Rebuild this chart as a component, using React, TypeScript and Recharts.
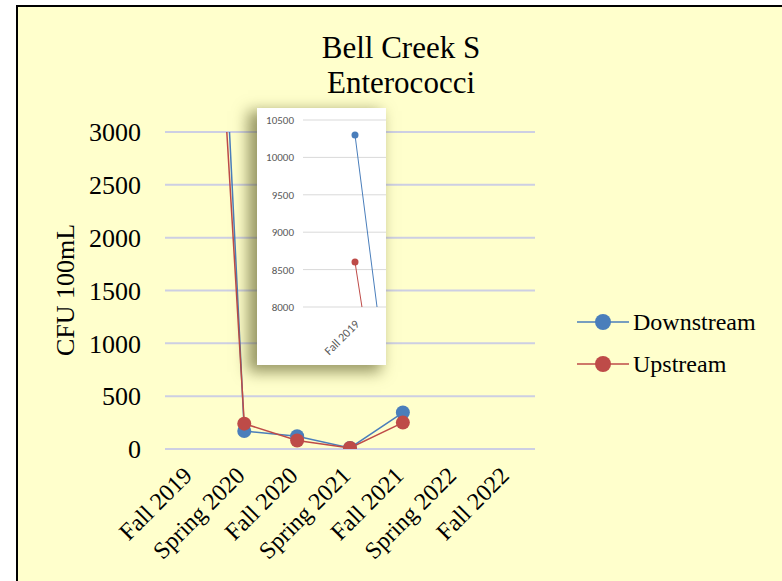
import React from 'react';
import { LineChart, Line, XAxis, YAxis, CartesianGrid } from 'recharts';

const categories = ['Fall 2019', 'Spring 2020', 'Fall 2020', 'Spring 2021', 'Fall 2021', 'Spring 2022', 'Fall 2022'];
const downstream = [10300, 170, 120, 10, 345, null, null];
const upstream = [8600, 240, 80, 10, 250, null, null];
const mainTicks = [0, 500, 1000, 1500, 2000, 2500, 3000];
const insetTicks = [8000, 8500, 9000, 9500, 10000, 10500];

const seriesNames = ['Downstream', 'Upstream'];
const seriesColors = ['#4A7EBB', '#BE4B48'];

const data = categories.map((c, i) => ({ name: c, Downstream: downstream[i], Upstream: upstream[i] }));

const serif = "'Liberation Serif', 'Times New Roman', serif";
const sans = "Carlito, 'Liberation Sans', Arial, sans-serif";

const MainXTick = (props: any) => {
  const { x, y, payload } = props;
  return (
    <g transform={`translate(${x + 2},${y + 28})`}>
      <text transform="rotate(-45)" textAnchor="end" fontSize={24} fontFamily={serif} fill="#000">
        {payload.value}
      </text>
    </g>
  );
};

// the zoomed inset only shows the first category, the rest sit outside its frame
const InsetXTick = (props: any) => {
  const { x, y, payload, index } = props;
  if (index !== 0) return null;
  return (
    <g transform={`translate(${x + 5},${y + 18})`}>
      <text transform="rotate(-45)" textAnchor="end" fontSize={12} fontFamily={sans} fill="#595959">
        {payload.value}
      </text>
    </g>
  );
};

const YLabel = () => (
  <text x={74} y={290} transform="rotate(-90, 74, 290)" textAnchor="middle" fontSize={26} fontFamily={serif} fill="#000">
    CFU 100mL
  </text>
);

export default function App() {
  return (
    <div style={{ position: 'absolute', left: 0, top: 0, width: 782, height: 581, overflow: 'hidden', background: '#fff' }}>
      <div
        style={{
          position: 'absolute',
          left: 16,
          top: 5,
          width: 820,
          height: 620,
          border: '2px solid #000',
          background: '#FFFFCC',
        }}
      />
      <div
        style={{
          position: 'absolute',
          left: 0,
          width: 802,
          top: 30,
          textAlign: 'center',
          fontFamily: serif,
          fontSize: 31,
          lineHeight: '35px',
          color: '#000',
        }}
      >
        Bell Creek S
        <br />
        Enterococci
      </div>
      <div style={{ position: 'absolute', left: 0, top: 0 }}>
        <LineChart width={782} height={581} data={data} margin={{ top: 132, right: 247, bottom: 32, left: 85 }}>
          <CartesianGrid vertical={false} stroke="#CDCFE3" strokeWidth={2} />
          <XAxis
            dataKey="name"
            axisLine={false}
            tickLine={false}
            tickSize={0}
            tickMargin={0}
            height={100}
            interval={0}
            padding={{ left: 26.4, right: 26.4 }}
            tick={<MainXTick />}
          />
          <YAxis
            domain={[0, 3000]}
            ticks={mainTicks}
            allowDataOverflow
            axisLine={false}
            tickLine={false}
            tickSize={0}
            tickMargin={24}
            width={80}
            tick={{ fontSize: 26, fontFamily: serif, fill: '#000' }}
            label={<YLabel />}
          />
          {seriesNames.map((s, i) => (
            <Line
              key={s}
              dataKey={s}
              stroke={seriesColors[i]}
              strokeWidth={1.5}
              dot={{ r: 7, fill: seriesColors[i], stroke: 'none' }}
              activeDot={false}
              isAnimationActive={false}
              connectNulls={false}
            />
          ))}
        </LineChart>
      </div>

      <div
        style={{
          position: 'absolute',
          left: 257,
          top: 108,
          width: 129,
          height: 257,
          background: '#fff',
          overflow: 'hidden',
          boxShadow: '-7px 5px 14px 2px rgba(80, 80, 30, 0.6)',
        }}
      >
        <LineChart width={690} height={257} data={data} margin={{ top: 12, right: 10, bottom: 0, left: 0 }}>
          <CartesianGrid vertical={false} stroke="#D9D9D9" strokeWidth={1} />
          <XAxis
            dataKey="name"
            axisLine={false}
            tickLine={false}
            tickSize={0}
            tickMargin={0}
            height={58}
            interval={0}
            padding={{ left: 52, right: 0 }}
            tick={<InsetXTick />}
          />
          <YAxis
            domain={[8000, 10500]}
            ticks={insetTicks}
            allowDataOverflow
            axisLine={false}
            tickLine={false}
            tickSize={0}
            tickMargin={9}
            width={46}
            tick={{ fontSize: 11, fontFamily: sans, fill: '#595959' }}
          />
          {seriesNames.map((s, i) => (
            <Line
              key={s}
              dataKey={s}
              stroke={seriesColors[i]}
              strokeWidth={1}
              dot={{ r: 3.5, fill: seriesColors[i], stroke: 'none' }}
              activeDot={false}
              isAnimationActive={false}
            />
          ))}
        </LineChart>
      </div>

      <div style={{ position: 'absolute', left: 577, top: 301, fontFamily: serif, fontSize: 24, color: '#000' }}>
        {seriesNames.map((s, i) => (
          <div key={s} style={{ display: 'flex', alignItems: 'center', height: 42 }}>
            <svg width={52} height={20} style={{ marginRight: 4 }}>
              <line x1={0} y1={10} x2={52} y2={10} stroke={seriesColors[i]} strokeWidth={1.5} />
              <circle cx={26} cy={10} r={8} fill={seriesColors[i]} />
            </svg>
            <span>{s}</span>
          </div>
        ))}
      </div>
    </div>
  );
}
